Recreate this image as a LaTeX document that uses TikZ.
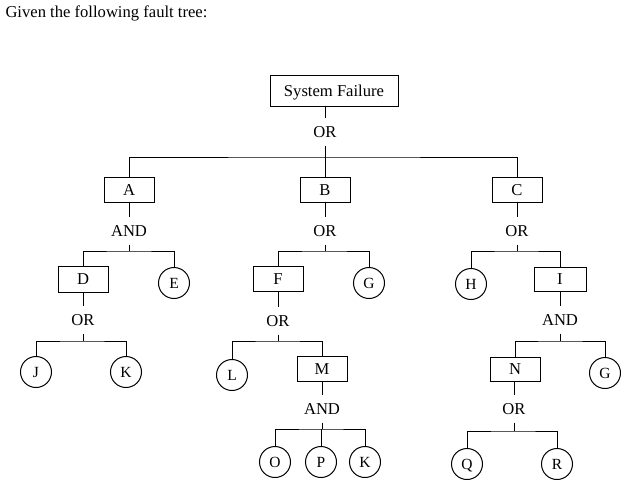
\documentclass[tikz,border=0pt]{standalone}
\usepackage{fontspec}
\setmainfont{Liberation Serif}
\begin{document}
\begin{tikzpicture}[x=1pt,y=1pt,line width=1pt,
  every node/.style={font=\fontsize{16.6}{19}\selectfont},
  evbox/.style={draw,rectangle,minimum width=50,minimum height=25,inner sep=0,text height=11,text depth=0},
  basic/.style={draw,circle,minimum size=31,inner sep=0,text height=11,text depth=0,font=\fontsize{15.5}{18}\selectfont},
  gate/.style={anchor=base,inner xsep=2,inner ysep=8,text height=11,text depth=0}]
\useasboundingbox (0,0) rectangle (625,-483);
\node[anchor=base west,inner sep=0] (title) at (5,-17) {Given the following fault tree:};
% top
\node[evbox,minimum width=128,minimum height=31] (SF) at (334,-90.5) {System Failure};
\node[gate] (g0) at (325,-137) {OR};
\node[evbox] (A) at (129,-189.5) {A};
\node[evbox] (B) at (325,-189.5) {B};
\node[evbox] (C) at (517,-190) {C};
\coordinate (b0) at (325,-157);
\draw (g0.north) -- (g0.north |- SF.south);
\draw (g0.south) -- (B.north);
\draw (A.north) |- (b0) -| (C.north);
% A branch
\node[gate] (gA) at (129,-236) {AND};
\node[evbox,minimum height=26] (D) at (83,-279) {D};
\node[basic] (E) at (174,-283) {E};
\coordinate (bA) at (129,-251);
\draw (gA.north) -- (gA.north |- A.south);
\draw (gA.south) -- (bA);
\draw (D.north) |- (bA) -| (E.north);
\node[gate] (gD) at (83,-325) {OR};
\node[basic] (J) at (36,-372) {J};
\node[basic] (K1) at (126,-372) {K};
\coordinate (bD) at (83,-341);
\draw (gD.north) -- (gD.north |- D.south);
\draw (gD.south) -- (bD);
\draw (J.north) |- (bD) -| (K1.north);
% B branch
\node[gate] (gB) at (325,-236) {OR};
\node[evbox] (F) at (278,-279) {F};
\node[basic] (G1) at (369,-283) {G};
\coordinate (bB) at (325,-251);
\draw (gB.north) -- (gB.north |- B.south);
\draw (gB.south) -- (bB);
\draw (F.north) |- (bB) -| (G1.north);
\node[gate] (gF) at (278,-326) {OR};
\node[basic] (L) at (232,-375) {L};
\node[evbox] (M) at (322,-368.5) {M};
\coordinate (bF) at (278,-341);
\draw (gF.north) -- (gF.north |- F.south);
\draw (gF.south) -- (bF);
\draw (L.north) |- (bF) -| (M.north);
\node[gate] (gM) at (322,-414) {AND};
\node[basic] (O) at (275,-462) {O};
\node[basic] (P) at (321,-462) {P};
\node[basic] (K2) at (365,-462) {K};
\coordinate (bM) at (322,-429);
\draw (gM.north) -- (gM.north |- M.south);
\draw (gM.south) -- (bM);
\draw (O.north) |- (bM) -| (K2.north);
\draw (P.north) -- (P.north |- bM);
% C branch
\node[gate] (gC) at (517,-236) {OR};
\node[basic] (H) at (471,-284) {H};
\node[evbox,minimum width=52,minimum height=24] (I) at (560,-279) {I};
\coordinate (bC) at (517,-251);
\draw (gC.north) -- (gC.north |- C.south);
\draw (gC.south) -- (bC);
\draw (H.north) |- (bC) -| (I.north);
\node[gate] (gI) at (560,-325) {AND};
\node[evbox,minimum height=24] (N) at (515,-369) {N};
\node[basic] (G2) at (605,-373) {G};
\coordinate (bI) at (560,-341);
\draw (gI.north) -- (gI.north |- I.south);
\draw (gI.south) -- (bI);
\draw (N.north) |- (bI) -| (G2.north);
\node[gate] (gN) at (514,-414) {OR};
\node[basic] (Q) at (467,-464) {Q};
\node[basic] (R) at (557,-464) {R};
\coordinate (bN) at (514,-431);
\draw (gN.north) -- (gN.north |- N.south);
\draw (gN.south) -- (bN);
\draw (Q.north) |- (bN) -| (R.north);
\end{tikzpicture}
\end{document}
